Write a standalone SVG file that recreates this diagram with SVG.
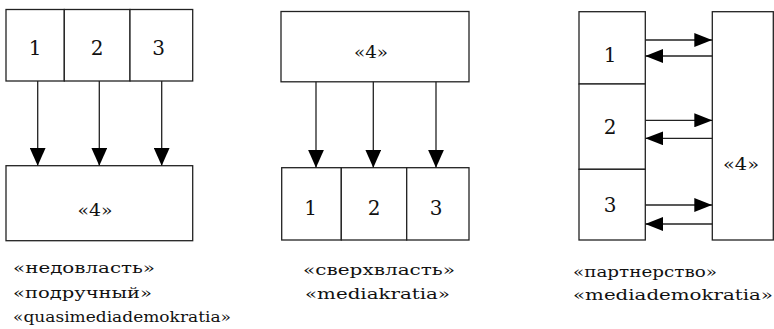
<svg xmlns="http://www.w3.org/2000/svg" width="774" height="329" viewBox="0 0 774 329">
<style>
.box{fill:#fff;stroke:#222;stroke-width:1.3}
.ln{stroke:#222;stroke-width:1.3;fill:none}
.dig{font-family:'DejaVu Serif','Liberation Serif',serif;font-size:20px;fill:#111;text-anchor:middle}
.q4{font-family:'DejaVu Serif','Liberation Serif',serif;font-size:16px;fill:#111;text-anchor:middle}
.lbl{font-family:'DejaVu Serif','Liberation Serif',serif;font-size:15px;fill:#111}
</style>
<defs>
<marker id="av" viewBox="0 0 18 16" refX="18" refY="8" markerWidth="18" markerHeight="16" markerUnits="userSpaceOnUse" orient="auto"><path d="M0,0 L18,8 L0,16 Z" fill="#000"/></marker>
<marker id="ah" viewBox="0 0 18 14" refX="18" refY="7" markerWidth="18" markerHeight="14" markerUnits="userSpaceOnUse" orient="auto"><path d="M0,0 L18,7 L0,14 Z" fill="#000"/></marker>
</defs>

<!-- Diagram 1 -->
<g id="d1-n1"><rect class="box" x="6" y="9.5" width="58.3" height="71.5"/><text class="dig" x="35" y="54.5">1</text></g>
<g id="d1-n2"><rect class="box" x="64.3" y="9.5" width="65.7" height="71.5"/><text class="dig" x="97" y="54.5">2</text></g>
<g id="d1-n3"><rect class="box" x="130" y="9.5" width="62.7" height="71.5"/><text class="dig" x="158.5" y="54.5">3</text></g>
<g id="d1-n4"><rect class="box" x="6" y="165.7" width="186.7" height="75"/><text class="q4" x="95" y="216" textLength="35" lengthAdjust="spacingAndGlyphs">«4»</text></g>

<!-- Diagram 2 -->
<g id="d2-n4"><rect class="box" x="281" y="11.5" width="188" height="70.3"/><text class="q4" x="371" y="58" textLength="34" lengthAdjust="spacingAndGlyphs">«4»</text></g>
<g id="d2-n1"><rect class="box" x="281.7" y="167.7" width="59.6" height="72.3"/><text class="dig" x="310.7" y="215">1</text></g>
<g id="d2-n2"><rect class="box" x="341.3" y="167.7" width="65.4" height="72.3"/><text class="dig" x="374" y="215">2</text></g>
<g id="d2-n3"><rect class="box" x="406.7" y="167.7" width="62.3" height="72.3"/><text class="dig" x="436" y="215">3</text></g>

<!-- Diagram 3 -->
<g id="d3-n1"><rect class="box" x="579" y="11.7" width="66.3" height="72.3"/><text class="dig" x="610" y="62">1</text></g>
<g id="d3-n2"><rect class="box" x="579" y="84" width="66.3" height="85.3"/><text class="dig" x="610" y="133.5">2</text></g>
<g id="d3-n3"><rect class="box" x="579" y="169.3" width="66.3" height="70.7"/><text class="dig" x="610" y="211.5">3</text></g>
<g id="d3-n4"><rect class="box" x="712.3" y="11.7" width="61" height="228.3"/><text class="q4" x="741" y="170" textLength="36" lengthAdjust="spacingAndGlyphs">«4»</text></g>

<g id="connectors">
<line class="ln" x1="37.7" y1="81" x2="37.7" y2="165.7" marker-end="url(#av)"/>
<line class="ln" x1="99.3" y1="81" x2="99.3" y2="165.7" marker-end="url(#av)"/>
<line class="ln" x1="161.7" y1="81" x2="161.7" y2="165.7" marker-end="url(#av)"/>
<line class="ln" x1="316" y1="81.8" x2="316" y2="167.7" marker-end="url(#av)"/>
<line class="ln" x1="373.3" y1="81.8" x2="373.3" y2="167.7" marker-end="url(#av)"/>
<line class="ln" x1="436" y1="81.8" x2="436" y2="167.7" marker-end="url(#av)"/>
<line class="ln" x1="645.3" y1="40" x2="712.3" y2="40" marker-end="url(#ah)"/>
<line class="ln" x1="712.3" y1="56" x2="645.3" y2="56" marker-end="url(#ah)"/>
<line class="ln" x1="645.3" y1="120.3" x2="712.3" y2="120.3" marker-end="url(#ah)"/>
<line class="ln" x1="712.3" y1="138.3" x2="645.3" y2="138.3" marker-end="url(#ah)"/>
<line class="ln" x1="645.3" y1="205" x2="712.3" y2="205" marker-end="url(#ah)"/>
<line class="ln" x1="712.3" y1="224" x2="645.3" y2="224" marker-end="url(#ah)"/>
</g>

<g id="labels">
<text class="lbl" x="13" y="273" textLength="142" lengthAdjust="spacingAndGlyphs">«недовласть»</text>
<text class="lbl" x="13" y="297.5" textLength="139" lengthAdjust="spacingAndGlyphs">«подручный»</text>
<text class="lbl" x="13" y="322" textLength="218" lengthAdjust="spacingAndGlyphs">«quasimediademokratia»</text>
<text class="lbl" x="303" y="275" textLength="152" lengthAdjust="spacingAndGlyphs">«сверхвласть»</text>
<text class="lbl" x="305" y="299" textLength="145" lengthAdjust="spacingAndGlyphs">«mediakratia»</text>
<text class="lbl" x="573" y="277" textLength="144" lengthAdjust="spacingAndGlyphs">«партнерство»</text>
<text class="lbl" x="573" y="300" textLength="200" lengthAdjust="spacingAndGlyphs">«mediademokratia»</text>
</g>
</svg>
